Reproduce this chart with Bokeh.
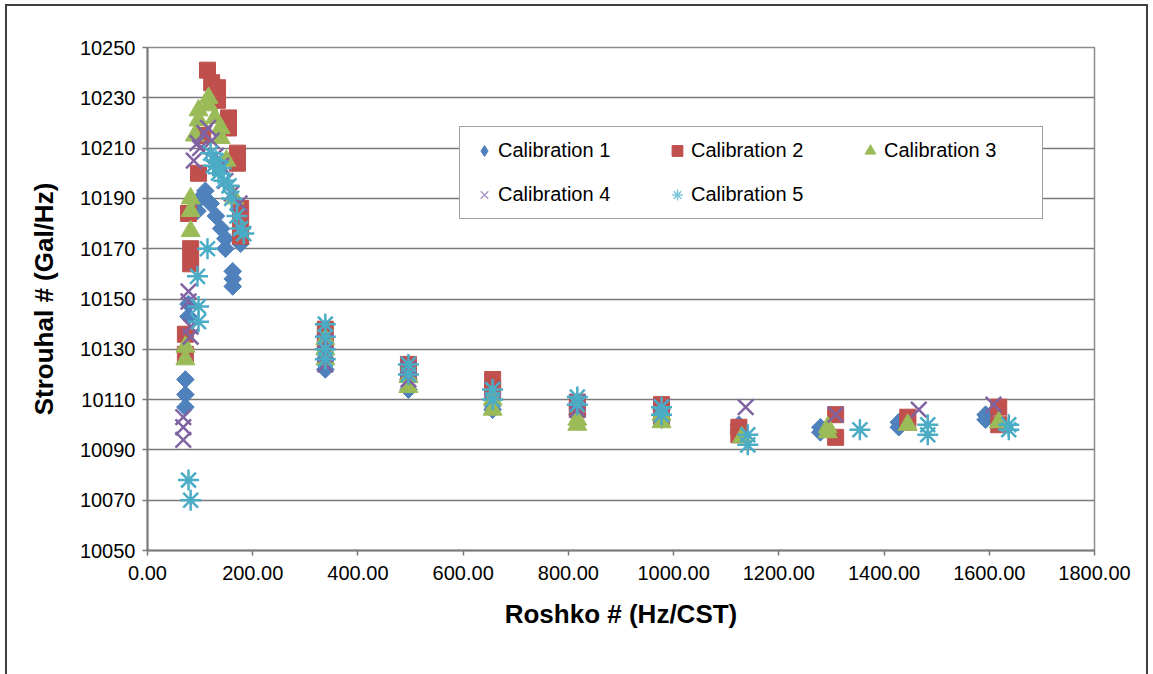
from bokeh.plotting import figure
from bokeh.models import (FixedTicker, NumeralTickFormatter, Legend, LegendItem,
                          Range1d, ColumnDataSource)
from bokeh.embed import file_html
from bokeh.resources import INLINE

# ---------------- data ----------------
series_names = ["Calibration 1", "Calibration 2", "Calibration 3", "Calibration 4", "Calibration 5"]

cal1_x = [72, 72, 72, 78, 78, 95, 100, 110, 120, 130, 140, 148, 148, 162, 162, 162, 177, 177,
          338, 338, 338, 496, 496, 656, 656, 817, 817, 977, 977, 1124, 1124, 1279, 1279,
          1428, 1428, 1593, 1593]
cal1_y = [10118, 10112, 10107, 10148, 10143, 10185, 10190, 10193, 10188, 10183, 10178, 10174, 10170,
          10161, 10158, 10155, 10172, 10176,
          10122, 10126, 10130, 10114, 10118, 10106, 10110, 10104, 10108, 10102, 10106, 10097, 10100,
          10097, 10099, 10099, 10101, 10102, 10104]

cal2_x = [72, 72, 82, 82, 78, 97, 105, 114, 122, 133, 133, 154, 154, 171, 171, 177, 177, 177,
          338, 338, 496, 496, 656, 656, 817, 817, 977, 977, 1124, 1124, 1308, 1308,
          1445, 1445, 1618, 1618]
cal2_y = [10136, 10128, 10170, 10164, 10184, 10200, 10215, 10241, 10236, 10234, 10229, 10222, 10218,
          10208, 10204, 10186, 10180, 10175,
          10138, 10133, 10124, 10120, 10118, 10114, 10109, 10106, 10108, 10103, 10099, 10096,
          10104, 10095, 10103, 10101, 10107, 10100]

cal3_x = [72, 72, 82, 82, 82, 90, 97, 97, 116, 116, 128, 139, 139, 150, 165,
          338, 338, 338, 496, 496, 656, 656, 817, 817, 977, 977, 1130, 1293, 1293, 1445, 1618]
cal3_y = [10131, 10126, 10190, 10185, 10177, 10215, 10225, 10221, 10230, 10227, 10222, 10218, 10214,
          10205, 10190,
          10134, 10130, 10126, 10119, 10115, 10110, 10106, 10102, 10100, 10101, 10104, 10095,
          10097, 10099, 10100, 10101]

cal4_x = [68, 68, 68, 82, 82, 78, 78, 88, 95, 100, 108, 115, 122, 130, 140, 148, 160, 175,
          338, 338, 338, 496, 496, 656, 656, 817, 817, 977, 977, 1137, 1308, 1466, 1608]
cal4_y = [10103, 10099, 10094, 10139, 10135, 10153, 10149, 10205, 10212, 10210, 10216, 10218, 10213,
          10207, 10203, 10197, 10192, 10188,
          10124, 10128, 10133, 10118, 10122, 10110, 10114, 10106, 10109, 10104, 10107, 10107,
          10104, 10106, 10108]

cal5_x = [78, 82, 97, 97, 95, 114, 120, 125, 130, 135, 140, 145, 155, 160, 170, 177, 183,
          338, 338, 338, 338, 496, 496, 656, 656, 817, 817, 977, 977, 1141, 1141, 1354,
          1483, 1483, 1637, 1637]
cal5_y = [10078, 10070, 10147, 10141, 10159, 10170, 10208, 10203, 10205, 10200, 10202, 10197, 10195,
          10190, 10183, 10178, 10176,
          10140, 10135, 10130, 10126, 10124, 10120, 10114, 10110, 10111, 10108, 10107, 10104,
          10096, 10092, 10098, 10100, 10096, 10100, 10098]

x_ticks = [0, 200, 400, 600, 800, 1000, 1200, 1400, 1600, 1800]
y_ticks = [10050, 10070, 10090, 10110, 10130, 10150, 10170, 10190, 10210, 10230, 10250]

# ---------------- figure ----------------
FONT = "Liberation Sans"
p = figure(width=1153, height=674, output_backend="svg", toolbar_location=None,
           x_range=Range1d(0, 1800), y_range=Range1d(10050, 10250),
           min_border_left=147, min_border_right=59, min_border_top=47, min_border_bottom=124)
p.background_fill_color = "white"
p.border_fill_color = None
# outer chart-area border (drawn behind the transparent canvas)
p.styles = {
    "background-color": "white",
    "background-image": ("linear-gradient(#404040,#404040),"
                         "linear-gradient(#404040,#404040),"
                         "linear-gradient(#404040,#404040)"),
    "background-size": "2px 100%, 1142px 2px, 2px 100%",
    "background-position": "5px 4px, 5px 4px, 1146px 4px",
    "background-repeat": "no-repeat",
}
p.outline_line_color = "#8c8c8c"
p.outline_line_width = 1.5

p.xgrid.grid_line_color = None
p.ygrid.grid_line_color = "#7a7a7a"
p.ygrid.grid_line_width = 1.5
p.ygrid.ticker = FixedTicker(ticks=y_ticks)

p.xaxis.ticker = FixedTicker(ticks=x_ticks)
p.yaxis.ticker = FixedTicker(ticks=y_ticks)
p.xaxis.formatter = NumeralTickFormatter(format="0.00")
for ax in (p.xaxis[0], p.yaxis[0]):
    ax.axis_line_color = "#7a7a7a"
    ax.axis_line_width = 2
    ax.major_tick_line_color = "#7a7a7a"
    ax.major_tick_line_width = 1.5
    ax.major_tick_in = 0
    ax.major_tick_out = 5
    ax.minor_tick_line_color = None
    ax.major_label_text_font = FONT
    ax.major_label_text_font_size = "20px"
    ax.major_label_text_color = "black"
    ax.axis_label_text_font = FONT
    ax.axis_label_text_font_size = "26px"
    ax.axis_label_text_font_style = "bold"
    ax.axis_label_text_color = "black"

p.xaxis.axis_label = "Roshko # (Hz/CST)"
p.yaxis.axis_label = "Strouhal # (Gal/Hz)"
p.xaxis.major_label_standoff = 10
p.yaxis.major_label_standoff = 7
p.xaxis.axis_label_standoff = 16
p.yaxis.axis_label_standoff = 18

colors = ["#4F81BD", "#C0504D", "#9BBB59", "#8064A2", "#4BACC6"]
xs = [cal1_x, cal2_x, cal3_x, cal4_x, cal5_x]
ys = [cal1_y, cal2_y, cal3_y, cal4_y, cal5_y]

# Calibration 1: diamonds (rotated squares)
r1 = p.scatter(xs[0], ys[0], marker="square", angle=0.785398, size=12.5,
               fill_color=colors[0], line_color=colors[0], line_width=1)
# Calibration 2: squares
r2 = p.scatter(xs[1], ys[1], marker="square", size=16,
               fill_color=colors[1], line_color=colors[1], line_width=1)
# Calibration 3: triangles
r3 = p.scatter(xs[2], ys[2], marker="triangle", size=19,
               fill_color=colors[2], line_color=colors[2], line_width=1)
# Calibration 4: x
r4 = p.scatter(xs[3], ys[3], marker="x", size=22,
               line_color=colors[3], line_width=2.5)
# Calibration 5: asterisk
r5 = p.scatter(xs[4], ys[4], marker="asterisk", size=21,
               line_color=colors[4], line_width=2.5)

# legend swatches: renderers holding a single undrawable (NaN) point
def proxy():
    return ColumnDataSource(dict(x=[float("nan")], y=[float("nan")]))

g1 = p.scatter("x", "y", source=proxy(), marker="diamond",
               fill_color=colors[0], line_color=colors[0])
g2 = p.scatter("x", "y", source=proxy(), marker="square",
               fill_color=colors[1], line_color=colors[1])
g3 = p.scatter("x", "y", source=proxy(), marker="triangle",
               fill_color=colors[2], line_color=colors[2])
g4 = p.scatter("x", "y", source=proxy(), marker="x",
               line_color="#A99BC9", line_width=1.5)
g5 = p.scatter("x", "y", source=proxy(), marker="asterisk",
               line_color="#7DC6DB", line_width=1.5)
proxies = [g1, g2, g3, g4, g5]

legend = Legend(items=[LegendItem(label=n, renderers=[r]) for n, r in zip(series_names, proxies)],
                location=(312, 331), orientation="horizontal", ncols=3)
legend.label_text_font = FONT
legend.label_text_font_size = "20px"
legend.label_text_color = "black"
legend.label_width = 148
legend.label_height = 27
legend.glyph_width = 28
legend.glyph_height = 27
legend.label_standoff = 0
legend.spacing = 17
legend.padding = 10
legend.margin = 0
legend.border_line_color = "#404040"
legend.border_line_width = 1.5
legend.background_fill_color = "white"
legend.background_fill_alpha = 1
p.add_layout(legend, "center")

open("out.html", "w").write(file_html(p, INLINE))
